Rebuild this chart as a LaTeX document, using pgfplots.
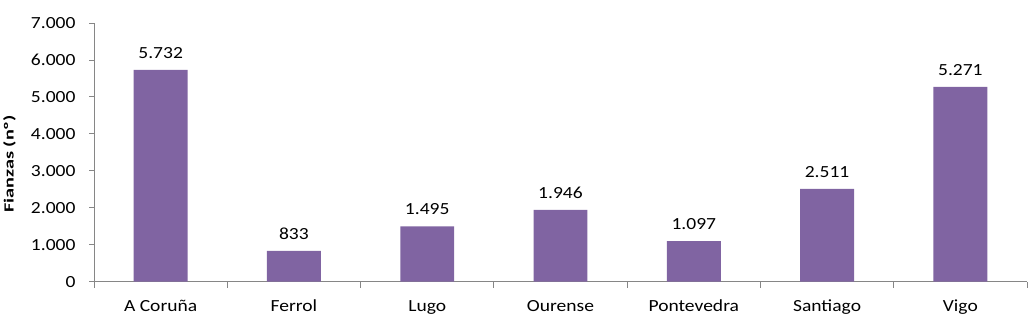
\documentclass[border=0pt]{standalone}
\usepackage{pgfplots}
\pgfplotsset{compat=1.18}
\usepackage{fontspec}
\setmainfont{Carlito}
\definecolor{barpurple}{HTML}{8064A2}
\definecolor{axisgray}{HTML}{868686}
\newcommand{\SX}[1]{\scalebox{1.15}[1]{#1}}
\begin{document}
\begin{tikzpicture}
\begin{axis}[
  scale only axis,
  width=934pt, height=259pt,
  xmin=-0.5, xmax=6.5,
  ymin=0, ymax=7000,
  axis lines*=left,
  axis line style={draw=axisgray, line width=0.8pt},
  tick align=outside,
  major tick length=5pt,
  minor tick length=6pt,
  tick style={draw=axisgray, line width=0.8pt},
  xtick={0,...,6},
  major x tick style={draw=none},
  minor xtick={-0.5,0.5,...,6.5},
  xticklabels={\SX{A Coruña},\SX{Ferrol},\SX{Lugo},\SX{Ourense},\SX{Pontevedra},\SX{Santiago},\SX{Vigo}},
  ytick={0,1000,...,7000},
  yticklabels={\SX{0},\SX{1.000},\SX{2.000},\SX{3.000},\SX{4.000},\SX{5.000},\SX{6.000},\SX{7.000}},
  tick label style={font=\fontsize{17}{17}\selectfont, text=black},
  xticklabel style={yshift=-10pt},
  yticklabel style={xshift=-10pt},
  /pgf/number format/assume math mode=true,
  /pgf/number format/1000 sep={.},
  ylabel={\scalebox{1.45}[1]{\textbf{Fianzas (nº)}}},
  ylabel style={at={(axis description cs:-0.0905,0.455)}, anchor=center, font=\fontsize{14}{14}\selectfont},
  nodes near coords={\SX{\pgfmathprintnumber{\pgfplotspointmeta}}},
  every node near coord/.append style={font=\fontsize{17}{17}\selectfont, text=black, yshift=8pt},
  clip=false,
]
\addplot[ybar, bar width=54pt, fill=barpurple, draw=none] coordinates {
  (0,5732) (1,833) (2,1495) (3,1946) (4,1097) (5,2511) (6,5271)
};
\end{axis}
\path[use as bounding box] (-93pt,-39pt) rectangle (938pt,282pt);
\end{tikzpicture}
\end{document}
